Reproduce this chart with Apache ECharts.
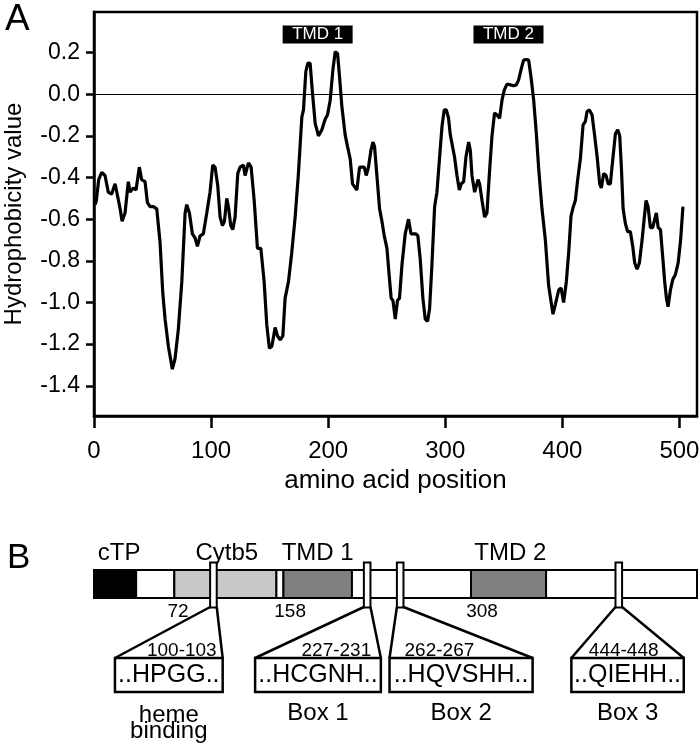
<!DOCTYPE html>
<html>
<head>
<meta charset="utf-8">
<script src="https://cdn.jsdelivr.net/npm/echarts@6/dist/echarts.min.js"></script>
<style>
  html, body { margin: 0; padding: 0; background: #fff; }
  #chart { width: 700px; height: 747px; }
</style>
</head>
<body>
<div id="chart"></div>
<script>
// panel A: hydrophobicity profile
var aaPosition = [1, 2, 4, 6.6, 9.4, 12.2, 15, 18, 19.4, 22, 24, 26.5, 29.3, 30.8, 33.6, 35.9, 38.7, 40.7, 43.6, 45.6,
  47.9, 50.7, 53.6, 56.4, 58.7, 60.7, 63.5, 66.9, 69.2, 72, 75, 77.8, 79.2, 81.5, 84, 86.3, 88.3, 90.6, 93.4, 96.3,
  99.1, 101.4, 103.4, 105.7, 107.7, 109.7, 111.4, 113.4, 114.8, 116.8, 118.5, 120.5, 122.8, 124.8, 127.6, 129, 131.9, 134.2, 136.8, 139.6,
  142.5, 145.3, 147.6, 149.8, 151.9, 154.7, 156.7, 159, 161.3, 163.2, 166.1, 168.9, 171.8, 174.6, 177.5, 178.9, 180.9, 182.6, 184.6, 186.6,
  188.9, 191.7, 194.6, 197.4, 199.4, 201.7, 204, 206, 208, 209.7, 211.7, 214.5, 216.5, 218.8, 220.8, 222.5, 224.5, 226.8, 228.2, 230.8,
  232.5, 234.4, 236.5, 238.2, 239.6, 241.6, 243.9, 245.9, 247.9, 250.2, 252.1, 253.8, 255.3, 257.3, 259.2, 260.9, 263, 265.8, 268.6, 270.7,
  272.9, 274.9, 276.6, 278.6, 280.9, 282.9, 284.9, 286.6, 288.6, 290.9, 292.9, 295.2, 297.2, 299.1, 300.9, 302.8, 304.3, 305.7, 307.9, 310,
  312, 313.7, 315.7, 317.7, 320, 321.4, 322.8, 325.1, 326.5, 328, 329.3, 331.4, 333.6, 335.6, 337.6, 339.9, 342.1, 344.2, 346.4, 348.5,
  350.4, 352.7, 355.6, 358.4, 360.7, 362.6, 365, 366.9, 369.2, 371.2, 373.2, 375.5, 377.8, 379.7, 382.6, 385.5, 388.3, 392, 394, 396.9,
  398.9, 401.1, 403.4, 405.4, 407.4, 409.1, 411.1, 413.1, 415.4, 417.7, 419.7, 421.1, 423.1, 425.4, 427.4, 429.7, 431.9, 433.3, 435.3, 437.3,
  439.1, 441, 443.3, 445.3, 447.3, 449, 450.4, 451.9, 453.8, 455.8, 458.1, 460.1, 461.8, 463.8, 465.8, 468.1, 470.1, 471.5, 473.2, 475.2,
  477.2, 478.9, 480.3, 481.8, 483.8, 485.7, 487.4, 488.9, 490.3, 492.3, 494.3, 496.6, 498.9, 501, 503]
var hydroValue = [-0.53, -0.51, -0.41, -0.375, -0.39, -0.47, -0.48, -0.43, -0.43, -0.54, -0.61, -0.57, -0.42, -0.47, -0.45, -0.46, -0.35, -0.41, -0.42, -0.52,
  -0.54, -0.54, -0.55, -0.71, -0.95, -1.08, -1.21, -1.32, -1.27, -1.13, -0.9, -0.57, -0.53, -0.57, -0.67, -0.69, -0.73, -0.68, -0.67, -0.57,
  -0.47, -0.34, -0.35, -0.44, -0.59, -0.63, -0.61, -0.5, -0.54, -0.63, -0.65, -0.59, -0.38, -0.35, -0.34, -0.39, -0.33, -0.35, -0.51, -0.74,
  -0.74, -0.9, -1.11, -1.22, -1.21, -1.12, -1.16, -1.18, -1.16, -0.98, -0.9, -0.76, -0.59, -0.38, -0.11, -0.075, 0.108, 0.15, 0.148, 0.005,
  -0.14, -0.2, -0.17, -0.12, -0.1, -0.03, 0.116, 0.204, 0.196, 0.084, -0.059, -0.195, -0.25, -0.31, -0.43, -0.43, -0.46, -0.35, -0.35, -0.35,
  -0.39, -0.35, -0.27, -0.23, -0.25, -0.39, -0.55, -0.61, -0.68, -0.74, -0.87, -0.98, -0.99, -1.08, -0.99, -0.98, -0.82, -0.67, -0.6, -0.67,
  -0.67, -0.67, -0.68, -0.79, -0.98, -1.08, -1.09, -1.03, -0.82, -0.54, -0.47, -0.3, -0.155, -0.075, -0.075, -0.115, -0.195, -0.2, -0.3, -0.39,
  -0.46, -0.43, -0.42, -0.3, -0.23, -0.27, -0.39, -0.47, -0.47, -0.41, -0.43, -0.51, -0.59, -0.57, -0.39, -0.2, -0.09, -0.1, -0.115, -0.027,
  0.02, 0.049, 0.045, 0.041, 0.045, 0.068, 0.124, 0.164, 0.167, 0.164, 0.084, -0.027, -0.19, -0.35, -0.55, -0.7, -0.92, -1.056, -1.01, -0.94,
  -0.93, -1.0, -0.9, -0.76, -0.585, -0.545, -0.51, -0.41, -0.31, -0.147, -0.13, -0.083, -0.075, -0.1, -0.19, -0.3, -0.43, -0.45, -0.38, -0.39,
  -0.43, -0.43, -0.3, -0.19, -0.17, -0.2, -0.35, -0.55, -0.62, -0.66, -0.66, -0.73, -0.81, -0.84, -0.81, -0.7, -0.585, -0.51, -0.54, -0.64,
  -0.64, -0.6, -0.57, -0.64, -0.65, -0.78, -0.9, -0.98, -1.02, -0.94, -0.89, -0.865, -0.81, -0.7, -0.54]

var xTicks = [0, 100, 200, 300, 400, 500]
var yTicks = [0.2, 0, -0.2, -0.4, -0.6, -0.8, -1.0, -1.2, -1.4]

var tmdNames = ['TMD 1', 'TMD 2']
var tmdCenter = [191, 354]
var tmdLevel = 0.287

// panel B: domain schematic (drawn in the same x units, not to scale)
var segStart = [0, 36, 68.6, 155.8, 161.8, 220.3, 322, 386.1]
var segEnd = [36, 68.6, 155.8, 161.8, 220.3, 322, 386.1, 515]
var segKind = ['cTP', 'linker', 'Cytb5', 'linker', 'TMD', 'linker', 'TMD', 'linker']

var domainNames = ['cTP', 'Cytb5', 'TMD 1', 'TMD 2']
var domainNamePos = [21.4, 113.4, 191, 355.6]
var boundaryNames = ['72', '158', '308']
var boundaryPos = [71.8, 167.5, 331.4]

var motifCenter = [102, 233.3, 261.5, 448.2]
var motifRange = ['100-103', '227-231', '262-267', '444-448']
var motifRangePos = [75, 207, 295, 452.4]
var motifSeq = ['..HPGG..', '..HCGNH..', '..HQVSHH..', '..QIEHH..']
var seqBoxStart = [17.9, 137.6, 252.4, 407.7]
var seqBoxEnd = [109.9, 245, 374.6, 503.7]
var motifName = ['heme\nbinding', 'Box 1', 'Box 2', 'Box 3']

var FONT = '"Liberation Sans", Arial, Helvetica, sans-serif'
var kindColor = { cTP: '#000000', linker: '#ffffff', Cytb5: '#c8c8c8', TMD: '#808080' }

var chart = echarts.init(document.getElementById('chart'))

function txt(x, y, text, size, extra) {
  var style = {
    text: text, x: x, y: y, fill: '#000',
    font: size + 'px ' + FONT,
    align: 'center', verticalAlign: 'middle',
    textAlign: 'center', textVerticalAlign: 'middle'
  }
  if (extra) {
    for (var k in extra) style[k] = extra[k]
  }
  return { type: 'text', style: style }
}

function renderSegment(params, api) {
  var i = api.value(2)
  var p0 = api.coord([api.value(0), 0])
  var p1 = api.coord([api.value(1), 0])
  return {
    type: 'rect',
    shape: { x: p0[0], y: p0[1] - 14, width: p1[0] - p0[0], height: 28 },
    style: { fill: kindColor[segKind[i]], stroke: '#000', lineWidth: 2 }
  }
}

function renderMotif(params, api) {
  var i = api.value(1)
  var c = api.coord([motifCenter[i], 0])
  var s = api.coord([seqBoxStart[i], 0])
  var e = api.coord([seqBoxEnd[i], 0])
  var r = api.coord([motifRangePos[i], 0])
  var cy = c[1]
  var half = 3.3
  var children = [
    { type: 'polyline', shape: { points: [[c[0] - half, cy + 23], [s[0], cy + 74]] }, style: { stroke: '#000', lineWidth: 2.5, fill: null } },
    { type: 'polyline', shape: { points: [[c[0] + half, cy + 23], [e[0], cy + 74]] }, style: { stroke: '#000', lineWidth: 2.5, fill: null } },
    { type: 'rect', shape: { x: c[0] - half, y: cy - 21.5, width: half * 2, height: 45 }, style: { fill: '#fff', stroke: '#000', lineWidth: 2 } },
    { type: 'rect', shape: { x: s[0], y: cy + 74, width: e[0] - s[0], height: 34 }, style: { fill: '#fff', stroke: '#000', lineWidth: 2.5 } },
    txt(r[0], cy + 67, motifRange[i], 19),
    txt((s[0] + e[0]) / 2, cy + 91.5, motifSeq[i], 25)
  ]
  var nameX = (s[0] + e[0]) / 2
  if (motifName[i].indexOf('\n') >= 0) {
    children.push(txt(nameX, cy + 123, motifName[i], 24, { verticalAlign: 'top', textVerticalAlign: 'top', lineHeight: 16 }))
  } else {
    children.push(txt(nameX, cy + 129, motifName[i], 24))
  }
  return { type: 'group', children: children }
}

function renderLabelRow(names, offset, size) {
  return function (params, api) {
    var p = api.coord([api.value(0), 0])
    return txt(p[0], p[1] + offset, names[api.value(1)], size)
  }
}

chart.setOption({
  animation: false,
  textStyle: { fontFamily: FONT, color: '#000' },
  title: [
    { text: 'A', left: 0, top: -4, textStyle: { fontSize: 37, fontWeight: 'normal', color: '#000', fontFamily: FONT } },
    { text: 'B', left: 2, top: 536, textStyle: { fontSize: 35, fontWeight: 'normal', color: '#000', fontFamily: FONT } }
  ],
  grid: [
    { left: 94, right: 3, top: 12, bottom: 331, show: true, borderColor: '#000', borderWidth: 2.5, outerBoundsMode: 'none' },
    { left: 94, right: 3, top: 556, height: 56, outerBoundsMode: 'none' }
  ],
  xAxis: [
    {
      gridIndex: 0, type: 'value', min: 0, max: 515,
      name: 'amino acid position', nameLocation: 'middle', nameGap: 50,
      nameTextStyle: { fontSize: 26, color: '#000', fontFamily: FONT },
      axisLine: { show: true, onZero: false, lineStyle: { color: '#000', width: 2.5 } },
      axisTick: { show: true, length: 12, customValues: xTicks, lineStyle: { color: '#000', width: 2.5 } },
      axisLabel: { customValues: xTicks, fontSize: 24, color: '#000', margin: 23, fontFamily: FONT },
      splitLine: { show: false }
    },
    { gridIndex: 1, type: 'value', min: 0, max: 515, show: false }
  ],
  yAxis: [
    {
      gridIndex: 0, type: 'value', min: -1.545, max: 0.395,
      name: 'Hydrophobicity value', nameLocation: 'middle', nameGap: 68, nameRotate: 90,
      nameTextStyle: { fontSize: 24, color: '#000', fontFamily: FONT },
      axisLine: { show: true, onZero: false, lineStyle: { color: '#000', width: 2.5 } },
      axisTick: { show: true, length: 8, customValues: yTicks, lineStyle: { color: '#000', width: 2.5 } },
      axisLabel: {
        customValues: yTicks, fontSize: 23, color: '#000', margin: 14, fontFamily: FONT,
        formatter: function (v) { return v.toFixed(1) }
      },
      splitLine: { show: false }
    },
    { gridIndex: 1, type: 'category', data: ['protein'], show: false }
  ],
  series: [
    {
      type: 'line',
      xAxisIndex: 0, yAxisIndex: 0,
      data: aaPosition.map(function (x, i) { return [x, hydroValue[i]] }),
      showSymbol: false,
      lineStyle: { color: '#000', width: 3.2 },
      markLine: {
        silent: true, symbol: 'none', label: { show: false },
        lineStyle: { color: '#000', width: 1.2, type: 'solid' },
        data: [{ yAxis: 0 }]
      }
    },
    {
      type: 'scatter',
      xAxisIndex: 0, yAxisIndex: 0,
      symbol: 'rect', symbolSize: [70, 18],
      itemStyle: { color: '#000', opacity: 1 },
      label: { show: true, position: 'inside', color: '#fff', fontSize: 17, fontFamily: FONT, formatter: '{b}' },
      data: tmdCenter.map(function (x, i) { return { name: tmdNames[i], value: [x, tmdLevel] } })
    },
    {
      type: 'custom',
      xAxisIndex: 1, yAxisIndex: 1,
      renderItem: renderSegment,
      data: segStart.map(function (s, i) { return [s, segEnd[i], i] })
    },
    {
      type: 'custom',
      xAxisIndex: 1, yAxisIndex: 1,
      renderItem: renderLabelRow(domainNames, -31, 24),
      data: domainNamePos.map(function (x, i) { return [x, i] })
    },
    {
      type: 'custom',
      xAxisIndex: 1, yAxisIndex: 1,
      renderItem: renderLabelRow(boundaryNames, 27.5, 19),
      data: boundaryPos.map(function (x, i) { return [x, i] })
    },
    {
      type: 'custom',
      xAxisIndex: 1, yAxisIndex: 1,
      renderItem: renderMotif,
      data: motifCenter.map(function (x, i) { return [x, i] })
    }
  ]
})
</script>
</body>
</html>
